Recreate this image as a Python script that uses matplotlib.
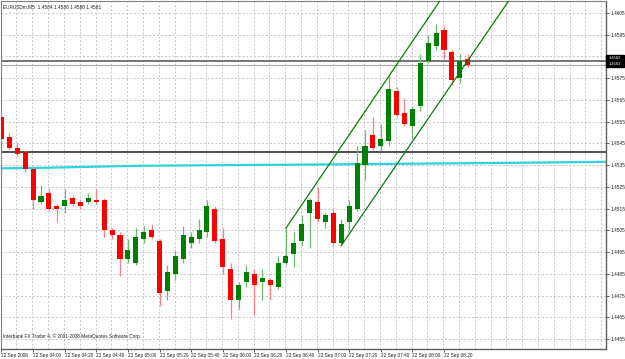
import matplotlib
matplotlib.use("Agg")
import matplotlib.pyplot as plt
from matplotlib.patches import Rectangle

plt.rcParams["font.family"] = ["Liberation Sans Narrow", "Liberation Sans", "DejaVu Sans"]

# EURUSDm M5 bars, 22 Sep 2008 from 03:40
opens = [1.4557, 1.4548, 1.4543, 1.4541, 1.4533, 1.4518, 1.4522, 1.4516, 1.4516, 1.4520,
         1.4518, 1.4518, 1.4519, 1.4519, 1.4505, 1.4503, 1.4492, 1.4490, 1.4501, 1.4505,
         1.4500, 1.4477, 1.4485, 1.4492, 1.4499, 1.4501, 1.4504, 1.4515, 1.4501, 1.4487,
         1.4473, 1.4481, 1.4485, 1.4481, 1.4482, 1.4479, 1.4490, 1.4494, 1.4500, 1.4513,
         1.4518, 1.4509, 1.4513, 1.4499, 1.4509, 1.4515, 1.4535, 1.4549, 1.4544, 1.4546,
         1.4569, 1.4559, 1.4553, 1.4562, 1.4583, 1.4590, 1.4597, 1.4587, 1.4575, 1.4584]
highs = [1.4559, 1.4550, 1.4545, 1.4542, 1.4534, 1.4526, 1.4524, 1.4517, 1.4524, 1.4521,
         1.4519, 1.4522, 1.4524, 1.4520, 1.4506, 1.4504, 1.4501, 1.4506, 1.4507, 1.4508,
         1.4501, 1.4489, 1.4496, 1.4507, 1.4504, 1.4510, 1.4519, 1.4516, 1.4506, 1.4490,
         1.4481, 1.4489, 1.4487, 1.4487, 1.4483, 1.4493, 1.4506, 1.4504, 1.4512, 1.4520,
         1.4525, 1.4513, 1.4515, 1.4510, 1.4519, 1.4544, 1.4551, 1.4557, 1.4554, 1.4576,
         1.4571, 1.4566, 1.4562, 1.4586, 1.4595, 1.4600, 1.4599, 1.4588, 1.4586, 1.4586]
lows = [1.4546, 1.4542, 1.4539, 1.4532, 1.4515, 1.4517, 1.4514, 1.4509, 1.4513, 1.4516,
        1.4515, 1.4517, 1.4517, 1.4502, 1.4501, 1.4484, 1.4490, 1.4489, 1.4499, 1.4501,
        1.4470, 1.4473, 1.4482, 1.4490, 1.4497, 1.4499, 1.4502, 1.4499, 1.4485, 1.4464,
        1.4469, 1.4479, 1.4466, 1.4473, 1.4473, 1.4478, 1.4489, 1.4488, 1.4498, 1.4497,
        1.4509, 1.4506, 1.4498, 1.4498, 1.4505, 1.4514, 1.4528, 1.4542, 1.4542, 1.4544,
        1.4557, 1.4553, 1.4547, 1.4560, 1.4582, 1.4588, 1.4584, 1.4572, 1.4573, 1.4580]
closes = [1.4547, 1.4543, 1.4540, 1.4533, 1.4519, 1.4521, 1.4515, 1.4515, 1.4519, 1.4517,
          1.4516, 1.4520, 1.4518, 1.4505, 1.4503, 1.4492, 1.4496, 1.4502, 1.4504, 1.4502,
          1.4476, 1.4486, 1.4493, 1.4503, 1.4502, 1.4505, 1.4516, 1.4500, 1.4488, 1.4473,
          1.4480, 1.4486, 1.4480, 1.4483, 1.4480, 1.4490, 1.4493, 1.4499, 1.4508, 1.4519,
          1.4510, 1.4512, 1.4499, 1.4508, 1.4516, 1.4536, 1.4544, 1.4543, 1.4547, 1.4570,
          1.4558, 1.4554, 1.4561, 1.4582, 1.4591, 1.4596, 1.4588, 1.4574, 1.4583, 1.4581]

time_labels = ["22 Sep 2008", "22 Sep 04:00", "22 Sep 04:20", "22 Sep 04:40", "22 Sep 05:00",
               "22 Sep 05:20", "22 Sep 05:40", "22 Sep 06:00", "22 Sep 06:20", "22 Sep 06:40",
               "22 Sep 07:00", "22 Sep 07:20", "22 Sep 07:40", "22 Sep 08:00", "22 Sep 08:20"]
price_ticks = [1.4455, 1.4465, 1.4475, 1.4485, 1.4495, 1.4505, 1.4515, 1.4525,
               1.4535, 1.4545, 1.4555, 1.4565, 1.4575, 1.4585, 1.4595, 1.4605]

# slow moving average (cyan), read at a few bars
ma_bars = [0, 5.8, 17.5, 44, 63, 76.5]
ma_vals = [1.45335, 1.45338, 1.45347, 1.45354, 1.45360, 1.45365]

# trend channel: start point and a second point on each line
upper_line = [(36, 1.4506), (55, 1.4608)]
lower_line = [(43, 1.4498), (59, 1.4583)]

level_line = 1.4541
top_line = 1.4583
bid = 1.4581

UP = "#008000"
DOWN = "#FF0000"

fig = plt.figure(figsize=(6.25, 3.59), dpi=100)
ax = fig.add_axes([1 / 625, 1 - 349 / 359, 605 / 625, 348 / 359])
ax.set_xlim(-0.06, 76.5)
ax.set_ylim(1.44504, 1.46105)

# grid
for k in range(0, 78, 2):
    ax.axvline(k - 0.1, color="#C4C6CE", lw=0.7, ls=(0, (2, 2)), zorder=0)
for p in price_ticks:
    ax.axhline(p, color="#C4C6CE", lw=0.7, ls=(0, (2, 2)), zorder=0)

# moving average and horizontal lines
ax.plot(ma_bars, ma_vals, color="#2CD3DA", lw=1.6, zorder=2)
ax.axhline(level_line, color="#505050", lw=1.4, zorder=2)
ax.axhline(top_line, color="#505050", lw=1.1, zorder=2)
ax.axhline(bid, color="#A8A8A8", lw=0.8, zorder=2)

# candles
for i, (o, h, l, c) in enumerate(zip(opens, highs, lows, closes)):
    up = c >= o
    col = UP if up else DOWN
    wick = "#6FB86F" if up else "#FF8080"
    ax.vlines(i, l, h, color=wick, lw=0.9, zorder=3)
    lo, hi = min(o, c), max(o, c)
    ax.bar(i, max(hi - lo, 0.00005), bottom=lo, width=0.64, color=col, lw=0, zorder=4)

# channel rays
for (x1, y1), (x2, y2) in (upper_line, lower_line):
    slope = (y2 - y1) / (x2 - x1)
    x_end = 80
    ax.plot([x1, x_end], [y1, y1 + slope * (x_end - x1)], color="#0A7A0A", lw=0.9, zorder=5)

# axes styling
for side in ("top", "left"):
    ax.spines[side].set_color("#808080")
    ax.spines[side].set_linewidth(0.8)
for side in ("right", "bottom"):
    ax.spines[side].set_color("#606060")
    ax.spines[side].set_linewidth(1.0)

ax.yaxis.tick_right()
ax.set_yticks(price_ticks)
ax.set_yticklabels(["" if p == 1.4585 else f"{p:.4f}" for p in price_ticks])
ax.set_xticks(range(0, 4 * len(time_labels), 4))
ax.set_xticklabels(time_labels, ha="left")
ax.tick_params(axis="both", labelsize=3.4, length=2, width=0.6, color="#404040",
               pad=1.2, labelcolor="#202020")

# price box on the right
fig.patches.append(Rectangle((606 / 625, 1 - 67 / 359), 18 / 625, 12 / 359,
                             transform=fig.transFigure, color="black", zorder=10))
fig.text(615 / 625, 1 - 58.3 / 359, f"{top_line:.4f}", color="white", fontsize=2.9,
         ha="center", va="center", zorder=11)
fig.text(615 / 625, 1 - 64.2 / 359, f"{bid:.4f}", color="white", fontsize=2.9,
         ha="center", va="center", zorder=11)

ax.text(0.004, 0.992, "EURUSDm,M5  1.4584 1.4586 1.4580 1.4581", transform=ax.transAxes,
        fontsize=3.4, color="#202020", va="top", ha="left")
ax.text(0.004, 0.028, "Interbank FX Trader 4, \u00a9 2001-2008 MetaQuotes Software Corp.",
        transform=ax.transAxes, fontsize=3.4, color="#202020", va="bottom", ha="left")

fig.savefig("out.png", dpi=100, facecolor="white")
